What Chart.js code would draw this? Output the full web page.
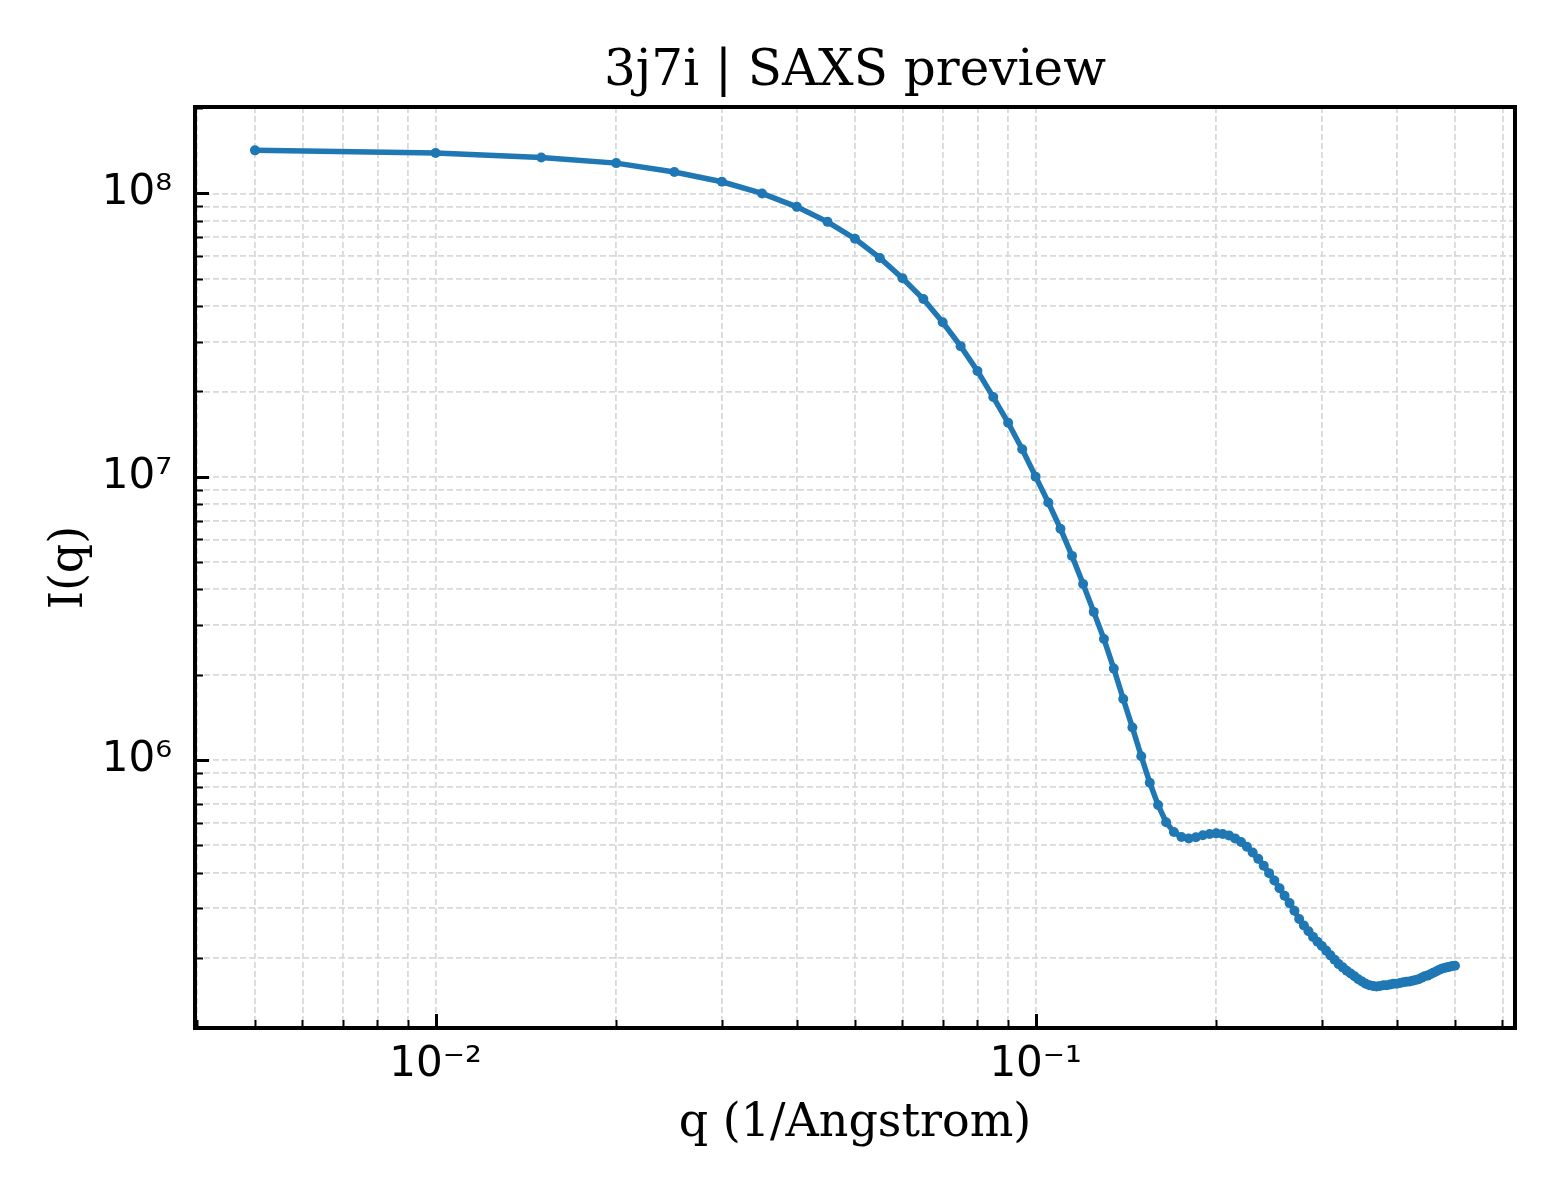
<!DOCTYPE html>
<html>
<head>
<meta charset="utf-8">
<title>3j7i | SAXS preview</title>
<script src="https://cdn.jsdelivr.net/npm/chart.js@4.4.1/dist/chart.umd.min.js"></script>
<style>
  html, body { margin: 0; padding: 0; background: #fff; }
  #wrap { width: 1560px; height: 1200px; }
</style>
</head>
<body>
<div id="wrap"><canvas id="saxs" width="1560" height="1200"></canvas></div>
<script>
const titleText = "3j7i | SAXS preview";
const xLabel = "q (1/Angstrom)";
const yLabel = "I(q)";

const qValues = [
  0.005, 0.010, 0.015, 0.020, 0.025, 0.030, 0.035, 0.040, 0.045, 0.050,
  0.055, 0.060, 0.065, 0.070, 0.075, 0.080, 0.085, 0.090, 0.095, 0.100,
  0.105, 0.110, 0.115, 0.120, 0.125, 0.130, 0.135, 0.140, 0.145, 0.150,
  0.155, 0.160, 0.165, 0.170, 0.175, 0.180, 0.185, 0.190, 0.195, 0.200,
  0.205, 0.210, 0.215, 0.220, 0.225, 0.230, 0.235, 0.240, 0.245, 0.250,
  0.255, 0.260, 0.265, 0.270, 0.275, 0.280, 0.285, 0.290, 0.295, 0.300,
  0.305, 0.310, 0.315, 0.320, 0.325, 0.330, 0.335, 0.340, 0.345, 0.350,
  0.355, 0.360, 0.365, 0.370, 0.375, 0.380, 0.385, 0.390, 0.395, 0.400,
  0.405, 0.410, 0.415, 0.420, 0.425, 0.430, 0.435, 0.440, 0.445, 0.450,
  0.455, 0.460, 0.465, 0.470, 0.475, 0.480, 0.485, 0.490, 0.495, 0.500
];

const intensity = [
  1.42e8, 1.39e8, 1.34e8, 1.28e8, 1.19e8, 1.10e8, 1.00e8, 8.97e7, 7.94e7, 6.92e7,
  5.92e7, 5.02e7, 4.24e7, 3.51e7, 2.89e7, 2.36e7, 1.91e7, 1.55e7, 1.25e7, 1.00e7,
  8.10e6, 6.55e6, 5.25e6, 4.18e6, 3.33e6, 2.67e6, 2.10e6, 1.64e6, 1.30e6, 1.03e6,
  8.30e5, 6.93e5, 6.02e5, 5.56e5, 5.34e5, 5.28e5, 5.33e5, 5.42e5, 5.47e5, 5.50e5,
  5.47e5, 5.41e5, 5.28e5, 5.13e5, 4.93e5, 4.71e5, 4.47e5, 4.23e5, 3.98e5, 3.75e5,
  3.52e5, 3.31e5, 3.12e5, 2.93e5, 2.74e5, 2.60e5, 2.48e5, 2.37e5, 2.28e5, 2.20e5,
  2.12e5, 2.04e5, 1.97e5, 1.90e5, 1.85e5, 1.80e5, 1.76e5, 1.72e5, 1.68e5, 1.65e5,
  1.62e5, 1.60e5, 1.59e5, 1.585e5, 1.59e5, 1.60e5, 1.60e5, 1.61e5, 1.62e5, 1.62e5,
  1.63e5, 1.64e5, 1.645e5, 1.65e5, 1.66e5, 1.67e5, 1.68e5, 1.70e5, 1.72e5, 1.73e5,
  1.75e5, 1.77e5, 1.79e5, 1.81e5, 1.83e5, 1.84e5, 1.85e5, 1.86e5, 1.87e5, 1.875e5
];

// axis limits (log scale, matplotlib-like margins)
const xMin = 0.003972, xMax = 0.6295;
const yMin = 1.13e5, yMax = 2.02e8;

const xMajorTicks = [0.01, 0.1];
const xTickLabels = ["10\u207B\u00B2", "10\u207B\u00B9"];
const xMinorTicks = [
  0.004, 0.005, 0.006, 0.007, 0.008, 0.009,
  0.02, 0.03, 0.04, 0.05, 0.06, 0.07, 0.08, 0.09,
  0.2, 0.3, 0.4, 0.5, 0.6
];

const yMajorTicks = [1e6, 1e7, 1e8];
const yTickLabels = ["10\u2076", "10\u2077", "10\u2078"];
const yMinorTicks = [
  2e5, 3e5, 4e5, 5e5, 6e5, 7e5, 8e5, 9e5,
  2e6, 3e6, 4e6, 5e6, 6e6, 7e6, 8e6, 9e6,
  2e7, 3e7, 4e7, 5e7, 6e7, 7e7, 8e7, 9e7,
  2e8
];

const lineColor = "#1f77b4";
const gridColor = "#d9d9d9";
const serif = "'DejaVu Serif', serif";
const sans = "'DejaVu Sans', sans-serif";

const setTicks = (majors, minors, lo, hi) => (scale) => {
  const vals = majors.concat(minors).filter((v) => v >= lo && v <= hi);
  vals.sort((a, b) => a - b);
  scale.ticks = vals.map((v) => ({ value: v, major: majors.includes(v) }));
};

const labelFor = (majors, labels) => (value) => {
  const i = majors.findIndex((m) => Math.abs(m - value) / m < 1e-9);
  return i >= 0 ? labels[i] : "";
};

// frame, inward tick marks and the title
const frameAndTicks = {
  id: "frameAndTicks",
  afterDraw(chart) {
    const { ctx, chartArea: a, scales } = chart;
    ctx.save();
    ctx.strokeStyle = "#000";
    scales.x.ticks.forEach((t) => {
      const px = Math.round(scales.x.getPixelForValue(t.value)) + 0.5;
      ctx.lineWidth = t.major ? 3 : 2;
      ctx.beginPath();
      ctx.moveTo(px, a.bottom);
      ctx.lineTo(px, a.bottom - (t.major ? 14 : 8));
      ctx.stroke();
    });
    scales.y.ticks.forEach((t) => {
      const py = Math.round(scales.y.getPixelForValue(t.value)) + 0.5;
      ctx.lineWidth = t.major ? 3 : 2;
      ctx.beginPath();
      ctx.moveTo(a.left, py);
      ctx.lineTo(a.left + (t.major ? 14 : 8), py);
      ctx.stroke();
    });
    ctx.lineWidth = 4;
    ctx.strokeRect(a.left, a.top, a.right - a.left, a.bottom - a.top);

    ctx.fillStyle = "#000";
    ctx.font = "50px " + serif;
    ctx.textAlign = "center";
    ctx.textBaseline = "alphabetic";
    ctx.fillText(titleText, (a.left + a.right) / 2, 85);
    ctx.restore();
  },
};

const points = qValues.map((q, i) => ({ x: q, y: intensity[i] }));

new Chart(document.getElementById("saxs"), {
  type: "line",
  data: {
    datasets: [
      {
        label: "I(q)",
        data: points,
        borderColor: lineColor,
        backgroundColor: lineColor,
        borderWidth: 5.5,
        pointRadius: 5,
        pointBorderWidth: 0,
        pointBackgroundColor: lineColor,
        tension: 0,
        fill: false,
      },
    ],
  },
  options: {
    responsive: false,
    animation: false,
    devicePixelRatio: 1,
    layout: { padding: { top: 107, right: 45, left: 0, bottom: 0 } },
    plugins: {
      legend: { display: false },
      title: { display: false },
      tooltip: { enabled: false },
    },
    scales: {
      x: {
        type: "logarithmic",
        min: xMin,
        max: xMax,
        afterBuildTicks: setTicks(xMajorTicks, xMinorTicks, xMin, xMax),
        afterFit: (scale) => { scale.height = 172; },
        grid: { color: gridColor, lineWidth: 1.8, drawTicks: false },
        border: { display: false, dash: [6, 3] },
        ticks: {
          autoSkip: false,
          maxRotation: 0,
          padding: 12,
          color: "#000",
          font: { family: sans, size: 42 },
          callback: labelFor(xMajorTicks, xTickLabels),
        },
        title: {
          display: true,
          text: xLabel,
          color: "#000",
          font: { family: serif, size: 46 },
          padding: { top: 0, bottom: 48 },
        },
      },
      y: {
        type: "logarithmic",
        min: yMin,
        max: yMax,
        afterBuildTicks: setTicks(yMajorTicks, yMinorTicks, yMin, yMax),
        afterFit: (scale) => { scale.width = 195; },
        grid: { color: gridColor, lineWidth: 1.8, drawTicks: false },
        border: { display: false, dash: [6, 3] },
        ticks: {
          autoSkip: false,
          padding: 23,
          color: "#000",
          font: { family: sans, size: 42 },
          callback: labelFor(yMajorTicks, yTickLabels),
        },
        title: {
          display: true,
          text: yLabel,
          color: "#000",
          font: { family: serif, size: 46 },
          padding: { top: 42, bottom: 0 },
        },
      },
    },
  },
  plugins: [frameAndTicks],
});
</script>
</body>
</html>
